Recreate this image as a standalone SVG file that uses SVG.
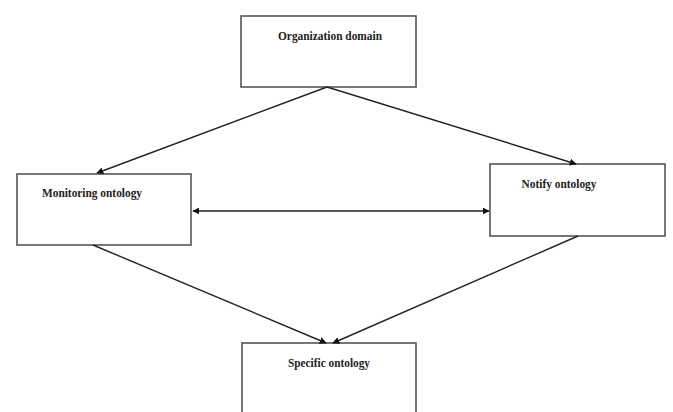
<svg xmlns="http://www.w3.org/2000/svg" width="673" height="412" viewBox="0 0 673 412">
<style>
.box{fill:#fff;stroke:#555;stroke-width:1.6}
.lbl{font-family:"Liberation Serif","Times New Roman",serif;font-size:12px;fill:#222;font-weight:bold}
.ed{stroke:#222;stroke-width:1.4;fill:none}
</style>
<defs>
<marker id="ah" viewBox="0 0 10 10" refX="9" refY="5" markerWidth="7" markerHeight="7" orient="auto-start-reverse" markerUnits="userSpaceOnUse">
<path d="M0,0 L10,5 L0,10 z" fill="#111"/>
</marker>
</defs>
<rect width="673" height="412" fill="#fff"/>
<g id="organization">
<rect class="box" x="241" y="16" width="175" height="71"/>
<text class="lbl" x="330" y="40" text-anchor="middle" textLength="104" lengthAdjust="spacingAndGlyphs">Organization domain</text>
</g>
<g id="monitoring">
<rect class="box" x="17" y="174" width="174" height="71"/>
<text class="lbl" x="92" y="197" text-anchor="middle" textLength="100" lengthAdjust="spacingAndGlyphs">Monitoring ontology</text>
</g>
<g id="notify">
<rect class="box" x="490" y="164" width="175" height="72"/>
<text class="lbl" x="559" y="188" text-anchor="middle" textLength="75" lengthAdjust="spacingAndGlyphs">Notify ontology</text>
</g>
<g id="specific">
<rect class="box" x="242" y="343" width="174" height="80"/>
<text class="lbl" x="329" y="367" text-anchor="middle" textLength="82" lengthAdjust="spacingAndGlyphs">Specific ontology</text>
</g>
<g id="connectors">
<line class="ed" x1="327" y1="87" x2="97" y2="173" marker-end="url(#ah)"/>
<line class="ed" x1="327" y1="87" x2="576" y2="164" marker-end="url(#ah)"/>
<line class="ed" x1="193" y1="211" x2="489" y2="211" marker-start="url(#ah)" marker-end="url(#ah)"/>
<line class="ed" x1="93" y1="245" x2="326" y2="343" marker-end="url(#ah)"/>
<line class="ed" x1="578" y1="236" x2="333" y2="343" marker-end="url(#ah)"/>
</g>
</svg>
